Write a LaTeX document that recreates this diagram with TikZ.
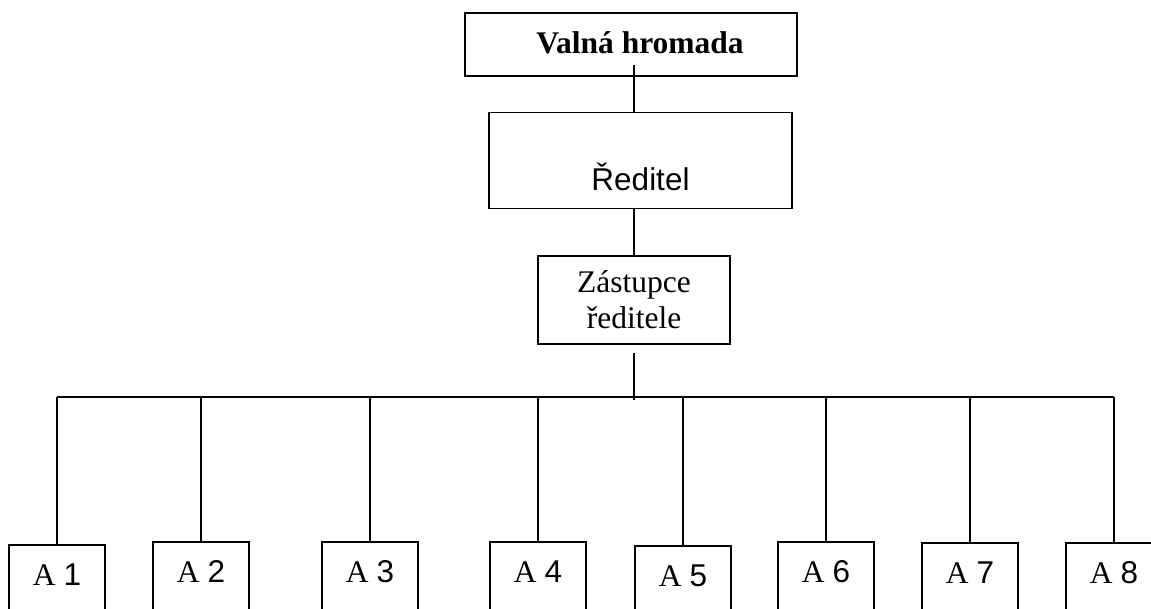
\documentclass[tikz,border=0pt]{standalone}
\usepackage{fontspec}
\setmainfont{Liberation Serif}
\setsansfont{Liberation Sans}
\begin{document}
\begin{tikzpicture}[x=1pt,y=-1pt,
  box/.style={draw, line width=1.6pt, inner sep=0pt, font=\fontsize{31.5}{36}\selectfont},
  abox/.style={box, anchor=north, minimum width=96pt, minimum height=70pt},
  conn/.style={line width=1.6pt}]
\useasboundingbox (0,0) rectangle (1151,608);
\clip (0,0) rectangle (1151,608);
\node[box, minimum width=332pt, minimum height=63pt, font=\fontsize{31.5}{36}\selectfont\bfseries] (val) at (631,44.5)
  {\raisebox{-8.5pt}[0pt][0pt]{\hspace*{18pt}Valná hromada}};
\node[box, minimum width=303pt, minimum height=96pt] (red) at (640.5,160.5)
  {\raisebox{-29.5pt}[0pt][0pt]{\sffamily Ředitel}};
\node[box, minimum width=192pt, minimum height=88pt, align=center] (zast) at (634,300)
  {Zástupce\\ředitele};
\coordinate (bar) at (634,397);
\foreach \n/\x/\t in {1/57/544, 2/201/541, 3/370/541, 4/538/541, 5/683/545, 6/826/541, 7/970/542, 8/1114/542}{
  \node[abox] (a\n) at (\x,\t) {\raisebox{-6pt}[0pt][0pt]{A {\sffamily\n}}};
}
\draw[conn] ([yshift=12pt]val.south -| zast.north) -- (red.north -| zast.north);
\draw[conn] (red.south -| zast.north) -- (zast.north);
\draw[conn] ([yshift=-8pt]zast.south) -- ([yshift=-3pt]bar);
\draw[conn] (bar -| a1.north) -- (bar -| a8.north);
\foreach \n in {1,...,8}{
  \draw[conn] (bar -| a\n.north) -- (a\n.north);
}
\end{tikzpicture}
\end{document}
